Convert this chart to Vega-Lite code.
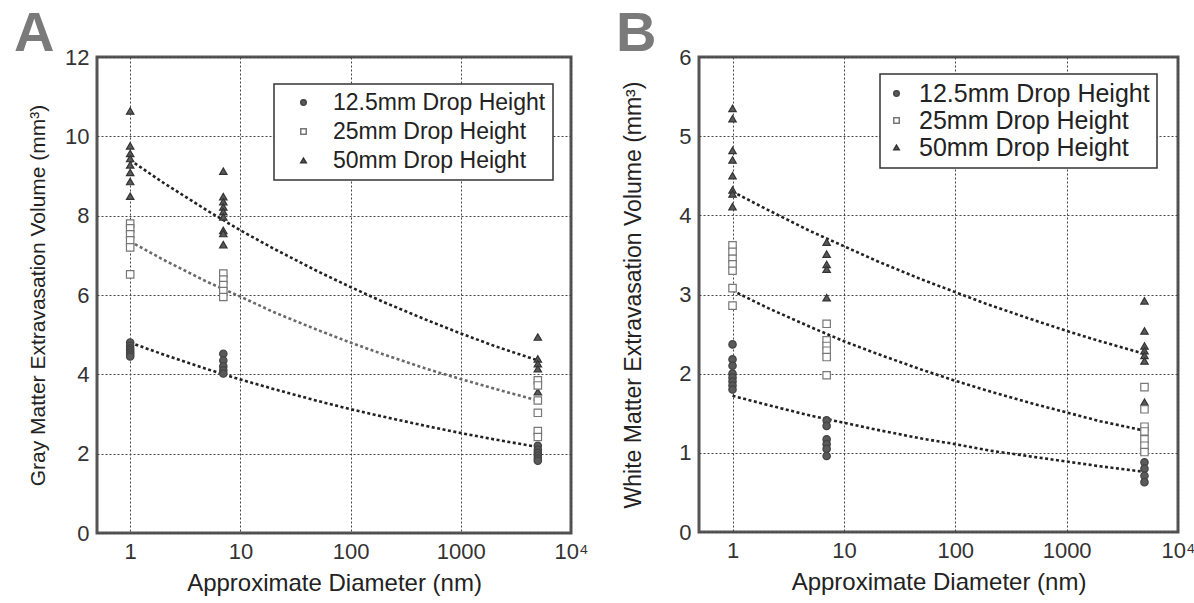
{
  "$schema": "https://vega.github.io/schema/vega-lite/v6.json",
  "background": "white",
  "padding": {"left": 12, "top": 4, "right": 5, "bottom": 2},
  "config": {
    "font": "Liberation Sans",
    "view": {"stroke": "#555", "strokeWidth": 3},
    "axis": {"grid": true, "gridColor": "#444", "gridDash": [2, 2], "gridWidth": 1, "ticks": false, "domain": false, "labelFontSize": 22, "labelColor": "#333", "titleFontSize": 22, "titleFontWeight": "normal", "titleColor": "#222", "labelFont": "Liberation Sans", "titleFont": "Liberation Sans"},
    "legend": {"strokeColor": "#333", "strokeWidth": 1.5, "fillColor": "white", "padding": 7, "rowPadding": 6, "labelFontSize": 23, "labelLimit": 400, "labelColor": "#222", "symbolSize": 30, "labelFont": "Liberation Sans"},
    "title": {"fontSize": 56, "fontWeight": "bold", "color": "#7a7a7a", "anchor": "start", "frame": "group", "font": "Liberation Sans", "baseline": "alphabetic"}
  },
  "datasets": {
    "pointsA": [
      {"h": "12.5mm Drop Height", "d": 1, "v": 4.8}, {"h": "12.5mm Drop Height", "d": 1, "v": 4.72}, {"h": "12.5mm Drop Height", "d": 1, "v": 4.65}, {"h": "12.5mm Drop Height", "d": 1, "v": 4.6}, {"h": "12.5mm Drop Height", "d": 1, "v": 4.55}, {"h": "12.5mm Drop Height", "d": 1, "v": 4.5}, {"h": "12.5mm Drop Height", "d": 1, "v": 4.45},
      {"h": "25mm Drop Height", "d": 1, "v": 7.8}, {"h": "25mm Drop Height", "d": 1, "v": 7.68}, {"h": "25mm Drop Height", "d": 1, "v": 7.53}, {"h": "25mm Drop Height", "d": 1, "v": 7.38}, {"h": "25mm Drop Height", "d": 1, "v": 7.2}, {"h": "25mm Drop Height", "d": 1, "v": 6.52},
      {"h": "50mm Drop Height", "d": 1, "v": 10.64}, {"h": "50mm Drop Height", "d": 1, "v": 9.76}, {"h": "50mm Drop Height", "d": 1, "v": 9.57}, {"h": "50mm Drop Height", "d": 1, "v": 9.44}, {"h": "50mm Drop Height", "d": 1, "v": 9.28}, {"h": "50mm Drop Height", "d": 1, "v": 9.09}, {"h": "50mm Drop Height", "d": 1, "v": 8.86}, {"h": "50mm Drop Height", "d": 1, "v": 8.49},
      {"h": "12.5mm Drop Height", "d": 7, "v": 4.52}, {"h": "12.5mm Drop Height", "d": 7, "v": 4.35}, {"h": "12.5mm Drop Height", "d": 7, "v": 4.2}, {"h": "12.5mm Drop Height", "d": 7, "v": 4.1}, {"h": "12.5mm Drop Height", "d": 7, "v": 4.02},
      {"h": "25mm Drop Height", "d": 7, "v": 6.54}, {"h": "25mm Drop Height", "d": 7, "v": 6.39}, {"h": "25mm Drop Height", "d": 7, "v": 6.25}, {"h": "25mm Drop Height", "d": 7, "v": 6.1}, {"h": "25mm Drop Height", "d": 7, "v": 5.95},
      {"h": "50mm Drop Height", "d": 7, "v": 9.12}, {"h": "50mm Drop Height", "d": 7, "v": 8.48}, {"h": "50mm Drop Height", "d": 7, "v": 8.35}, {"h": "50mm Drop Height", "d": 7, "v": 8.22}, {"h": "50mm Drop Height", "d": 7, "v": 8.1}, {"h": "50mm Drop Height", "d": 7, "v": 7.97}, {"h": "50mm Drop Height", "d": 7, "v": 7.63}, {"h": "50mm Drop Height", "d": 7, "v": 7.55}, {"h": "50mm Drop Height", "d": 7, "v": 7.27},
      {"h": "50mm Drop Height", "d": 5000, "v": 4.94}, {"h": "50mm Drop Height", "d": 5000, "v": 4.39}, {"h": "50mm Drop Height", "d": 5000, "v": 4.27}, {"h": "50mm Drop Height", "d": 5000, "v": 4.14}, {"h": "50mm Drop Height", "d": 5000, "v": 3.56},
      {"h": "12.5mm Drop Height", "d": 5000, "v": 2.2}, {"h": "12.5mm Drop Height", "d": 5000, "v": 2.1}, {"h": "12.5mm Drop Height", "d": 5000, "v": 2.02}, {"h": "12.5mm Drop Height", "d": 5000, "v": 1.95}, {"h": "12.5mm Drop Height", "d": 5000, "v": 1.88}, {"h": "12.5mm Drop Height", "d": 5000, "v": 1.82},
      {"h": "25mm Drop Height", "d": 5000, "v": 3.85}, {"h": "25mm Drop Height", "d": 5000, "v": 3.72}, {"h": "25mm Drop Height", "d": 5000, "v": 3.34}, {"h": "25mm Drop Height", "d": 5000, "v": 3.03}, {"h": "25mm Drop Height", "d": 5000, "v": 2.57}, {"h": "25mm Drop Height", "d": 5000, "v": 2.42}
    ],
    "linesA": [
      {"h": "50mm Drop Height", "d": 1, "v": 9.4}, {"h": "50mm Drop Height", "d": 2, "v": 8.83}, {"h": "50mm Drop Height", "d": 5, "v": 8.13}, {"h": "50mm Drop Height", "d": 10, "v": 7.63}, {"h": "50mm Drop Height", "d": 20, "v": 7.17}, {"h": "50mm Drop Height", "d": 50, "v": 6.6}, {"h": "50mm Drop Height", "d": 100, "v": 6.2}, {"h": "50mm Drop Height", "d": 200, "v": 5.82}, {"h": "50mm Drop Height", "d": 500, "v": 5.36}, {"h": "50mm Drop Height", "d": 1000, "v": 5.03}, {"h": "50mm Drop Height", "d": 2000, "v": 4.72}, {"h": "50mm Drop Height", "d": 5000, "v": 4.35},
      {"h": "25mm Drop Height", "d": 1, "v": 7.35}, {"h": "25mm Drop Height", "d": 2, "v": 6.89}, {"h": "25mm Drop Height", "d": 5, "v": 6.33}, {"h": "25mm Drop Height", "d": 10, "v": 5.96}, {"h": "25mm Drop Height", "d": 20, "v": 5.57}, {"h": "25mm Drop Height", "d": 50, "v": 5.12}, {"h": "25mm Drop Height", "d": 100, "v": 4.8}, {"h": "25mm Drop Height", "d": 200, "v": 4.5}, {"h": "25mm Drop Height", "d": 500, "v": 4.13}, {"h": "25mm Drop Height", "d": 1000, "v": 3.88}, {"h": "25mm Drop Height", "d": 2000, "v": 3.64}, {"h": "25mm Drop Height", "d": 5000, "v": 3.34},
      {"h": "12.5mm Drop Height", "d": 1, "v": 4.8}, {"h": "12.5mm Drop Height", "d": 2, "v": 4.5}, {"h": "12.5mm Drop Height", "d": 5, "v": 4.13}, {"h": "12.5mm Drop Height", "d": 10, "v": 3.87}, {"h": "12.5mm Drop Height", "d": 20, "v": 3.63}, {"h": "12.5mm Drop Height", "d": 50, "v": 3.33}, {"h": "12.5mm Drop Height", "d": 100, "v": 3.12}, {"h": "12.5mm Drop Height", "d": 200, "v": 2.93}, {"h": "12.5mm Drop Height", "d": 500, "v": 2.69}, {"h": "12.5mm Drop Height", "d": 1000, "v": 2.52}, {"h": "12.5mm Drop Height", "d": 2000, "v": 2.36}, {"h": "12.5mm Drop Height", "d": 5000, "v": 2.17}
    ],
    "pointsB": [
      {"h": "12.5mm Drop Height", "d": 1, "v": 2.37}, {"h": "12.5mm Drop Height", "d": 1, "v": 2.18}, {"h": "12.5mm Drop Height", "d": 1, "v": 2.1}, {"h": "12.5mm Drop Height", "d": 1, "v": 2.0}, {"h": "12.5mm Drop Height", "d": 1, "v": 1.95}, {"h": "12.5mm Drop Height", "d": 1, "v": 1.9}, {"h": "12.5mm Drop Height", "d": 1, "v": 1.85}, {"h": "12.5mm Drop Height", "d": 1, "v": 1.8},
      {"h": "25mm Drop Height", "d": 1, "v": 3.62}, {"h": "25mm Drop Height", "d": 1, "v": 3.54}, {"h": "25mm Drop Height", "d": 1, "v": 3.45}, {"h": "25mm Drop Height", "d": 1, "v": 3.38}, {"h": "25mm Drop Height", "d": 1, "v": 3.3}, {"h": "25mm Drop Height", "d": 1, "v": 3.08}, {"h": "25mm Drop Height", "d": 1, "v": 2.86},
      {"h": "50mm Drop Height", "d": 1, "v": 5.35}, {"h": "50mm Drop Height", "d": 1, "v": 5.22}, {"h": "50mm Drop Height", "d": 1, "v": 4.82}, {"h": "50mm Drop Height", "d": 1, "v": 4.7}, {"h": "50mm Drop Height", "d": 1, "v": 4.5}, {"h": "50mm Drop Height", "d": 1, "v": 4.32}, {"h": "50mm Drop Height", "d": 1, "v": 4.27}, {"h": "50mm Drop Height", "d": 1, "v": 4.11},
      {"h": "12.5mm Drop Height", "d": 7, "v": 1.41}, {"h": "12.5mm Drop Height", "d": 7, "v": 1.34}, {"h": "12.5mm Drop Height", "d": 7, "v": 1.17}, {"h": "12.5mm Drop Height", "d": 7, "v": 1.11}, {"h": "12.5mm Drop Height", "d": 7, "v": 1.05}, {"h": "12.5mm Drop Height", "d": 7, "v": 0.96},
      {"h": "25mm Drop Height", "d": 7, "v": 2.63}, {"h": "25mm Drop Height", "d": 7, "v": 2.42}, {"h": "25mm Drop Height", "d": 7, "v": 2.35}, {"h": "25mm Drop Height", "d": 7, "v": 2.29}, {"h": "25mm Drop Height", "d": 7, "v": 2.21}, {"h": "25mm Drop Height", "d": 7, "v": 1.98},
      {"h": "50mm Drop Height", "d": 7, "v": 3.66}, {"h": "50mm Drop Height", "d": 7, "v": 3.51}, {"h": "50mm Drop Height", "d": 7, "v": 3.38}, {"h": "50mm Drop Height", "d": 7, "v": 3.32}, {"h": "50mm Drop Height", "d": 7, "v": 2.96},
      {"h": "50mm Drop Height", "d": 5000, "v": 2.92}, {"h": "50mm Drop Height", "d": 5000, "v": 2.54}, {"h": "50mm Drop Height", "d": 5000, "v": 2.35}, {"h": "50mm Drop Height", "d": 5000, "v": 2.29}, {"h": "50mm Drop Height", "d": 5000, "v": 2.23}, {"h": "50mm Drop Height", "d": 5000, "v": 2.16}, {"h": "50mm Drop Height", "d": 5000, "v": 1.64},
      {"h": "12.5mm Drop Height", "d": 5000, "v": 0.88}, {"h": "12.5mm Drop Height", "d": 5000, "v": 0.8}, {"h": "12.5mm Drop Height", "d": 5000, "v": 0.71}, {"h": "12.5mm Drop Height", "d": 5000, "v": 0.63},
      {"h": "25mm Drop Height", "d": 5000, "v": 1.83}, {"h": "25mm Drop Height", "d": 5000, "v": 1.55}, {"h": "25mm Drop Height", "d": 5000, "v": 1.33}, {"h": "25mm Drop Height", "d": 5000, "v": 1.27}, {"h": "25mm Drop Height", "d": 5000, "v": 1.17}, {"h": "25mm Drop Height", "d": 5000, "v": 1.09}, {"h": "25mm Drop Height", "d": 5000, "v": 1.01}
    ],
    "linesB": [
      {"h": "50mm Drop Height", "d": 1, "v": 4.3}, {"h": "50mm Drop Height", "d": 2, "v": 4.08}, {"h": "50mm Drop Height", "d": 5, "v": 3.8}, {"h": "50mm Drop Height", "d": 10, "v": 3.61}, {"h": "50mm Drop Height", "d": 20, "v": 3.42}, {"h": "50mm Drop Height", "d": 50, "v": 3.19}, {"h": "50mm Drop Height", "d": 100, "v": 3.03}, {"h": "50mm Drop Height", "d": 200, "v": 2.87}, {"h": "50mm Drop Height", "d": 500, "v": 2.68}, {"h": "50mm Drop Height", "d": 1000, "v": 2.54}, {"h": "50mm Drop Height", "d": 2000, "v": 2.41}, {"h": "50mm Drop Height", "d": 5000, "v": 2.25},
      {"h": "25mm Drop Height", "d": 1, "v": 3.05}, {"h": "25mm Drop Height", "d": 2, "v": 2.84}, {"h": "25mm Drop Height", "d": 5, "v": 2.59}, {"h": "25mm Drop Height", "d": 10, "v": 2.41}, {"h": "25mm Drop Height", "d": 20, "v": 2.25}, {"h": "25mm Drop Height", "d": 50, "v": 2.05}, {"h": "25mm Drop Height", "d": 100, "v": 1.91}, {"h": "25mm Drop Height", "d": 200, "v": 1.78}, {"h": "25mm Drop Height", "d": 500, "v": 1.62}, {"h": "25mm Drop Height", "d": 1000, "v": 1.51}, {"h": "25mm Drop Height", "d": 2000, "v": 1.4}, {"h": "25mm Drop Height", "d": 5000, "v": 1.28},
      {"h": "12.5mm Drop Height", "d": 1, "v": 1.72}, {"h": "12.5mm Drop Height", "d": 2, "v": 1.61}, {"h": "12.5mm Drop Height", "d": 5, "v": 1.47}, {"h": "12.5mm Drop Height", "d": 10, "v": 1.38}, {"h": "12.5mm Drop Height", "d": 20, "v": 1.29}, {"h": "12.5mm Drop Height", "d": 50, "v": 1.18}, {"h": "12.5mm Drop Height", "d": 100, "v": 1.11}, {"h": "12.5mm Drop Height", "d": 200, "v": 1.03}, {"h": "12.5mm Drop Height", "d": 500, "v": 0.95}, {"h": "12.5mm Drop Height", "d": 1000, "v": 0.89}, {"h": "12.5mm Drop Height", "d": 2000, "v": 0.83}, {"h": "12.5mm Drop Height", "d": 5000, "v": 0.76}
    ]
  },
  "bounds": "flush",
  "spacing": 128,
  "resolve": {
    "scale": {"x": "independent", "y": "independent", "color": "independent", "shape": "independent", "fill": "independent", "stroke": "independent"},
    "legend": {"shape": "independent", "fill": "independent", "stroke": "independent", "color": "independent"}
  },
  "hconcat": [
    {
      "width": 474,
      "height": 476,
      "title": {"text": "A", "dx": -83, "offset": -17},
      "layer": [
        {
          "data": {"name": "linesA"},
          "mark": {"type": "line", "strokeDash": [3, 2.5], "strokeWidth": 2.6, "clip": true},
          "encoding": {
            "x": {"field": "d", "type": "quantitative", "scale": {"type": "log", "domain": [0.5, 10000], "nice": false},
                  "axis": {"values": [1, 10, 100, 1000, 10000], "labelExpr": "datum.value >= 10000 ? '10⁴' : format(datum.value, 'd')", "title": "Approximate Diameter (nm)", "labelPadding": 8, "titlePadding": 9, "labelFlush": false, "titleFontSize": 24}},
            "y": {"field": "v", "type": "quantitative", "scale": {"domain": [0, 12], "nice": false},
                  "axis": {"values": [0, 2, 4, 6, 8, 10, 12], "format": "d", "title": "Gray Matter Extravasation Volume (mm³)", "labelPadding": 8, "titlePadding": 16, "titleFontSize": 21}},
            "color": {"field": "h", "type": "nominal", "scale": {"range": ["#222222", "#6a6a6a", "#222222"]}, "legend": null}
          }
        },
        {
          "data": {"name": "pointsA"},
          "mark": {"type": "point", "filled": true, "opacity": 1, "strokeWidth": 1.2, "size": 55},
          "encoding": {
            "x": {"field": "d", "type": "quantitative"},
            "y": {"field": "v", "type": "quantitative"},
            "shape": {"field": "h", "type": "nominal", "scale": {"domain": ["12.5mm Drop Height", "25mm Drop Height", "50mm Drop Height"], "range": ["circle", "square", "triangle-up"]},
                      "legend": {"title": null, "orient": "none", "legendX": 177, "legendY": 27, "symbolOffset": 11, "labelOffset": 18, "rowPadding": 5}},
            "fill": {"field": "h", "type": "nominal", "scale": {"domain": ["12.5mm Drop Height", "25mm Drop Height", "50mm Drop Height"], "range": ["#5a5a5a", "#ffffff", "#5a5a5a"]},
                     "legend": {"title": null, "orient": "none", "legendX": 177, "legendY": 27, "symbolOffset": 11, "labelOffset": 18, "rowPadding": 5}},
            "stroke": {"field": "h", "type": "nominal", "scale": {"domain": ["12.5mm Drop Height", "25mm Drop Height", "50mm Drop Height"], "range": ["#444444", "#777777", "#333333"]},
                       "legend": {"title": null, "orient": "none", "legendX": 177, "legendY": 27, "symbolOffset": 11, "labelOffset": 18, "rowPadding": 5}}
          }
        }
      ]
    },
    {
      "width": 479,
      "height": 475,
      "title": {"text": "B", "dx": -83, "offset": -17},
      "layer": [
        {
          "data": {"name": "linesB"},
          "mark": {"type": "line", "strokeDash": [3, 2.5], "strokeWidth": 2.6, "clip": true, "color": "#222222"},
          "encoding": {
            "x": {"field": "d", "type": "quantitative", "scale": {"type": "log", "domain": [0.5, 10000], "nice": false},
                  "axis": {"values": [1, 10, 100, 1000, 10000], "labelExpr": "datum.value >= 10000 ? '10⁴' : format(datum.value, 'd')", "title": "Approximate Diameter (nm)", "labelPadding": 8, "titlePadding": 9, "labelFlush": false, "titleFontSize": 24}},
            "y": {"field": "v", "type": "quantitative", "scale": {"domain": [0, 6], "nice": false},
                  "axis": {"values": [0, 1, 2, 3, 4, 5, 6], "format": "d", "title": "White Matter Extravasation Volume (mm³)", "labelPadding": 8, "titlePadding": 33, "titleFontSize": 23}},
            "detail": {"field": "h", "type": "nominal"}
          }
        },
        {
          "data": {"name": "pointsB"},
          "mark": {"type": "point", "filled": true, "opacity": 1, "strokeWidth": 1.2, "size": 55},
          "encoding": {
            "x": {"field": "d", "type": "quantitative"},
            "y": {"field": "v", "type": "quantitative"},
            "shape": {"field": "h", "type": "nominal", "scale": {"domain": ["12.5mm Drop Height", "25mm Drop Height", "50mm Drop Height"], "range": ["circle", "square", "triangle-up"]},
                      "legend": {"title": null, "orient": "none", "legendX": 181, "legendY": 17, "symbolOffset": -3, "labelOffset": 10, "labelFontSize": 25, "rowPadding": 1}},
            "fill": {"field": "h", "type": "nominal", "scale": {"domain": ["12.5mm Drop Height", "25mm Drop Height", "50mm Drop Height"], "range": ["#5a5a5a", "#ffffff", "#5a5a5a"]},
                     "legend": {"title": null, "orient": "none", "legendX": 181, "legendY": 17, "symbolOffset": -3, "labelOffset": 10, "labelFontSize": 25, "rowPadding": 1}},
            "stroke": {"field": "h", "type": "nominal", "scale": {"domain": ["12.5mm Drop Height", "25mm Drop Height", "50mm Drop Height"], "range": ["#444444", "#777777", "#333333"]},
                       "legend": {"title": null, "orient": "none", "legendX": 181, "legendY": 17, "symbolOffset": -3, "labelOffset": 10, "labelFontSize": 25, "rowPadding": 1}}
          }
        }
      ]
    }
  ]
}
